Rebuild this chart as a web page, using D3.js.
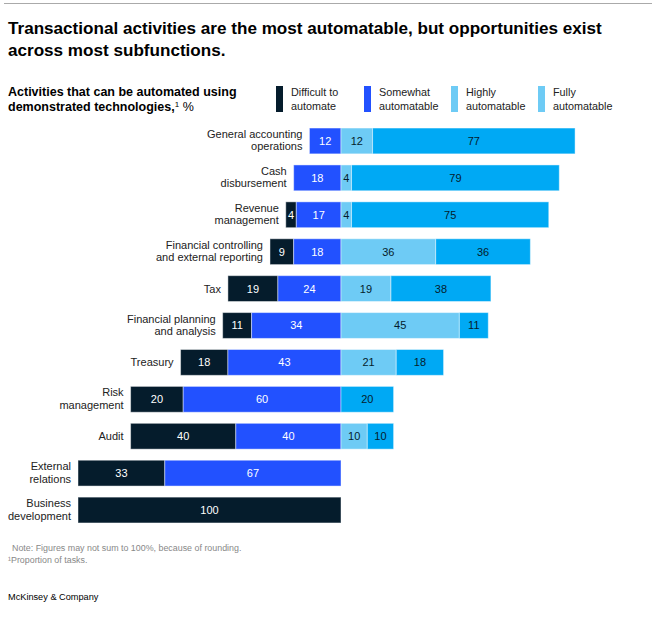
<!DOCTYPE html>
<html>
<head>
<meta charset="utf-8">
<script src="https://cdn.jsdelivr.net/npm/d3@7"></script>
<style>
  body { margin: 0; background: #fff; }
  svg text { font-family: "Liberation Sans", Arial, sans-serif; }
</style>
</head>
<body>
<script>
//------------ DATA ----------------------
const categories = [
  "General accounting operations", "Cash disbursement", "Revenue management",
  "Financial controlling and external reporting", "Tax", "Financial planning and analysis",
  "Treasury", "Risk management", "Audit", "External relations", "Business development"
];
const labelLines = [
  ["General accounting", "operations"], ["Cash", "disbursement"], ["Revenue", "management"],
  ["Financial controlling", "and external reporting"], ["Tax"], ["Financial planning", "and analysis"],
  ["Treasury"], ["Risk", "management"], ["Audit"], ["External", "relations"], ["Business", "development"]
];
const difficult = [0, 0, 4, 9, 19, 11, 18, 20, 40, 33, 100];
const somewhat  = [12, 18, 17, 18, 24, 34, 43, 60, 40, 67, 0];
const highly    = [12, 4, 4, 36, 19, 45, 21, 0, 10, 0, 0];
const fully     = [77, 79, 75, 36, 38, 11, 18, 20, 10, 0, 0];
const legendLabels = [["Difficult to", "automate"], ["Somewhat", "automatable"], ["Highly", "automatable"], ["Fully", "automatable"]];
//----------------------------------------

const width = 660, height = 621;
const colors = { difficult: "#051c2c", somewhat: "#2251ff", highly: "#6ecbf5", fully: "#00a9f4" };
const textColors = { difficult: "#fff", somewhat: "#fff", highly: "#051c2c", fully: "#051c2c" };

const svg = d3.select("body").append("svg")
    .attr("width", width)
    .attr("height", height);

// top rule
svg.append("line")
    .attr("x1", 4).attr("x2", 652).attr("y1", 3.5).attr("y2", 3.5)
    .attr("stroke", "#aaa").attr("stroke-width", 1);

// title
svg.append("text")
    .attr("x", 8).attr("y", 34)
    .attr("font-size", 17.1).attr("font-weight", "bold").attr("fill", "#000")
    .selectAll("tspan")
    .data(["Transactional activities are the most automatable, but opportunities exist", "across most subfunctions."])
    .join("tspan")
    .attr("x", 8).attr("dy", (d, i) => i ? 21.5 : 0)
    .text(d => d);

// subtitle
const sub = svg.append("text")
    .attr("x", 8).attr("y", 96)
    .attr("font-size", 12.5).attr("font-weight", "bold").attr("fill", "#000");
sub.append("tspan").attr("x", 8).text("Activities that can be automated using");
sub.append("tspan").attr("x", 8).attr("dy", 15).text("demonstrated technologies,");
sub.append("tspan").attr("font-size", 8).attr("font-weight", "normal").attr("dy", -4).text("1");
sub.append("tspan").attr("font-weight", "normal").attr("dy", 4).text(" %");

// legend
const legendX = [276, 364, 451, 538];
const legendColors = [colors.difficult, colors.somewhat, colors.highly, colors.highly];
const legend = svg.append("g").selectAll("g")
    .data(legendLabels)
    .join("g")
    .attr("transform", (d, i) => `translate(${legendX[i]},86)`);
legend.append("rect")
    .attr("width", 7).attr("height", 26)
    .attr("fill", (d, i) => legendColors[i]);
legend.append("text")
    .attr("font-size", 10.8).attr("fill", "#222")
    .selectAll("tspan")
    .data(d => d)
    .join("tspan")
    .attr("x", 15).attr("y", (d, i) => 10 + i * 14)
    .text(d => d);

// scales
const x = d3.scaleLinear().domain([-100, 100]).range([78, 604]);
const y = d3.scaleBand().domain(categories).range([122.5, 528.5])
    .paddingInner(0.3).paddingOuter(0.15);

// build segments, centred between "somewhat" and "highly"
const rows = categories.map((c, i) => {
  const segs = [];
  let start = -difficult[i] - somewhat[i];
  [["difficult", difficult[i]], ["somewhat", somewhat[i]], ["highly", highly[i]], ["fully", fully[i]]]
    .forEach(([key, v]) => {
      if (v > 0) segs.push({ key, value: v, x0: start, x1: start + v });
      start += v;
    });
  return { category: c, lines: labelLines[i], segs };
});

const row = svg.append("g").selectAll("g")
    .data(rows)
    .join("g")
    .attr("transform", d => `translate(0,${y(d.category)})`);

row.selectAll("rect")
    .data(d => d.segs)
    .join("rect")
    .attr("x", d => x(d.x0))
    .attr("width", d => x(d.x1) - x(d.x0))
    .attr("height", y.bandwidth())
    .attr("fill", d => colors[d.key])
    .attr("stroke", "rgba(255,255,255,0.45)")
    .attr("stroke-width", 1);

row.selectAll("text.val")
    .data(d => d.segs)
    .join("text")
    .attr("class", "val")
    .attr("x", d => (x(d.x0) + x(d.x1)) / 2)
    .attr("y", y.bandwidth() / 2 + 4)
    .attr("text-anchor", "middle")
    .attr("font-size", 11)
    .attr("fill", d => textColors[d.key])
    .text(d => d.value);

// category labels
row.append("text")
    .attr("text-anchor", "end")
    .attr("font-size", 11)
    .attr("fill", "#222")
    .selectAll("tspan")
    .data(d => d.lines.map(l => ({ l, n: d.lines.length, x: x(d.segs[0].x0) - 7 })))
    .join("tspan")
    .attr("x", d => d.x)
    .attr("y", (d, i) => d.n === 1 ? y.bandwidth() / 2 + 4 : y.bandwidth() / 2 - 3 + i * 12.5)
    .text(d => d.l);

// notes
svg.append("text")
    .attr("x", 12).attr("y", 551)
    .attr("font-size", 8.9).attr("fill", "#888")
    .text("Note: Figures may not sum to 100%, because of rounding.");
svg.append("text")
    .attr("x", 8).attr("y", 563)
    .attr("font-size", 8.9).attr("fill", "#888")
    .text("\u00b9Proportion of tasks.");
svg.append("text")
    .attr("x", 8).attr("y", 600)
    .attr("font-size", 9.2).attr("fill", "#000")
    .text("McKinsey & Company");
</script>
</body>
</html>
